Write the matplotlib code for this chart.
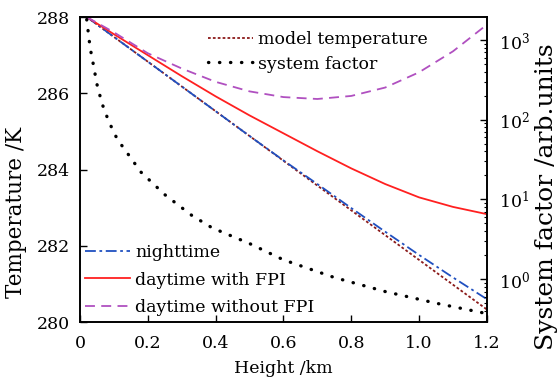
import numpy as np
import matplotlib
matplotlib.use("Agg")
import matplotlib.pyplot as plt

plt.rcParams['font.family'] = ['DejaVu Serif']
plt.rcParams['mathtext.fontset'] = 'dejavuserif'
plt.rcParams['font.size'] = 12.5

# heights (km) for the temperature profiles
height = [0.02, 0.1, 0.2, 0.3, 0.4, 0.5, 0.6, 0.7, 0.8, 0.9, 1.0, 1.1, 1.2]
model_temp = [288.0, 287.48, 286.83, 286.18, 285.53, 284.88, 284.23,
              283.58, 282.93, 282.28, 281.63, 280.98, 280.33]
night_temp = [288.0, 287.48, 286.83, 286.18, 285.53, 284.88, 284.24,
              283.62, 282.99, 282.37, 281.76, 281.17, 280.6]
day_fpi = [288.0, 287.55, 287.0, 286.45, 285.92, 285.42, 284.95,
           284.48, 284.03, 283.62, 283.27, 283.02, 282.83]
day_nofpi = [288.0, 287.6, 287.05, 286.65, 286.3, 286.05, 285.9,
             285.85, 285.93, 286.15, 286.55, 287.1, 287.8]

# system factor (right axis, log scale)
height_sf = [0.02, 0.025, 0.03, 0.04, 0.05, 0.065, 0.085, 0.11, 0.14, 0.18,
             0.25, 0.33, 0.39, 0.5, 0.6, 0.75, 0.9, 1.05, 1.2]
sys_factor = [1800, 1200, 800, 480, 280, 160, 95, 57, 38, 22,
              11.5, 6.3, 4.4, 2.8, 1.75, 1.05, 0.7, 0.5, 0.37]

fig = plt.figure(figsize=(5.59, 3.78), dpi=100)
ax = fig.add_axes([0.143, 0.148, 0.728, 0.807])
ax2 = ax.twinx()

l_model, = ax.plot(height, model_temp, color='#8b1a1a', ls=(0, (1.5, 1.2)), lw=1.3,
                   label='model temperature')
l_night, = ax.plot(height, night_temp, color='#2050c0', ls=(0, (6, 2, 1.5, 2)), lw=1.3,
                   label='nighttime')
l_fpi, = ax.plot(height, day_fpi, color='#ff2020', lw=1.3, label='daytime with FPI')
l_nofpi, = ax.plot(height, day_nofpi, color='#b050c0', ls=(0, (5.5, 3.5)), lw=1.3,
                   label='daytime without FPI')
l_sf, = ax2.plot(height_sf, sys_factor, color='black', ls=(0, (0.1, 3.2)), lw=2.4,
                 dash_capstyle='round', label='system factor')

ax.set_xlim(0, 1.2)
ax.set_ylim(280, 288)
ax.set_xticks([0, 0.2, 0.4, 0.6, 0.8, 1.0, 1.2])
ax.set_xticklabels(['0', '0.2', '0.4', '0.6', '0.8', '1.0', '1.2'])
ax.set_yticks([280, 282, 284, 286, 288])
ax.tick_params(direction='in', length=5, width=1, top=False)
ax.tick_params(axis='x', pad=9)
ax.tick_params(axis='y', pad=7)
ax.set_xlabel('Height /km')
ax.xaxis.set_label_coords(0.5, -0.125)
ax.set_ylabel('Temperature /K', fontsize=15.5)
ax.yaxis.set_label_coords(-0.13, 0.36)

ax2.set_yscale('log')
ax2.set_ylim(0.29, 1940)
ax2.set_yticks([1, 10, 100, 1000])
ax2.tick_params(which='major', direction='in', length=5, width=1, pad=9)
ax2.tick_params(which='minor', direction='in', length=2.5, width=0.8)
ax2.set_ylabel('System factor /arb.units', fontsize=18)
ax2.yaxis.set_label_coords(1.118, 0.41)

for a in (ax, ax2):
    for s in a.spines.values():
        s.set_linewidth(1.2)

leg1 = ax2.legend(handles=[l_model, l_sf], loc='upper left',
                  bbox_to_anchor=(0.315, 0.955), frameon=False, borderpad=0,
                  borderaxespad=0, handlelength=2.6, handletextpad=0.3,
                  labelspacing=0.45)
ax2.add_artist(leg1)
ax2.legend(handles=[l_night, l_fpi, l_nofpi], loc='lower left',
           bbox_to_anchor=(0.012, 0.02), frameon=False, borderpad=0,
           borderaxespad=0, handlelength=2.6, handletextpad=0.3,
           labelspacing=0.6)

fig.savefig('out.png', dpi=100)
